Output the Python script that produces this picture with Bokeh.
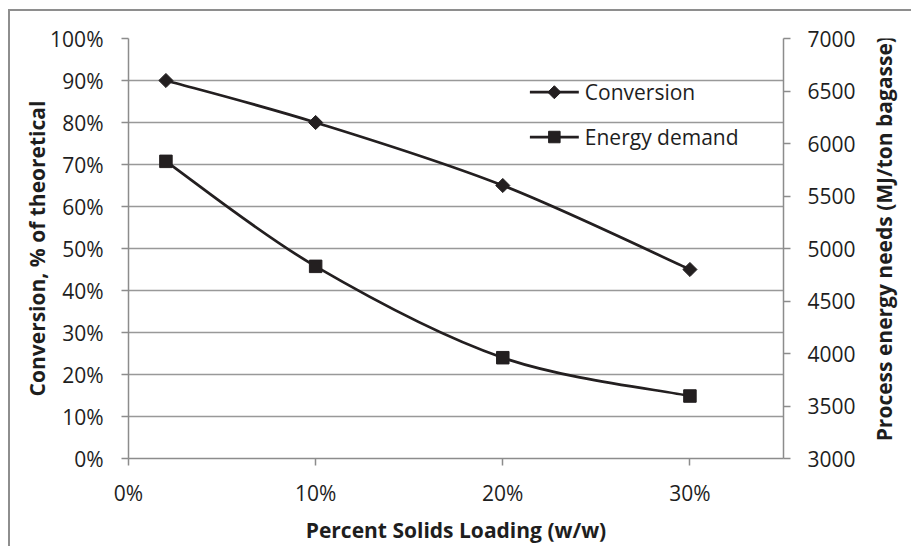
from math import pi

from bokeh.core.properties import value
from bokeh.embed import file_html
from bokeh.layouts import row
from bokeh.models import (ColumnDataSource, FixedTicker, LinearAxis,
                          NumeralTickFormatter, Range1d)
from bokeh.plotting import figure
from bokeh.resources import INLINE

# Pretreatment results versus solids loading
solids_loading = [0.02, 0.10, 0.20, 0.30]
conversion = [0.90, 0.80, 0.65, 0.45]
energy_demand = [5830, 4830, 3960, 3595]

x_ticks = [0.0, 0.1, 0.2, 0.3]
conversion_ticks = [0.0, 0.1, 0.2, 0.3, 0.4, 0.5, 0.6, 0.7, 0.8, 0.9, 1.0]
energy_ticks = [3000, 3500, 4000, 4500, 5000, 5500, 6000, 6500, 7000]

series_names = ["Conversion", "Energy demand"]
x_title = "Percent Solids Loading (w/w)"
left_title = "Conversion, % of theoretical"
right_title = "Process energy needs (MJ/ton bagasse)"

FONT = "Open Sans"
INK = "#231f20"
TEXT = "#1e1e1e"
AXIS_GRAY = "#8c8c8c"
GRID_GRAY = "#999999"
TICK_SIZE = "21px"
TITLE_SIZE = "21px"

# layout geometry (pixels)
HEIGHT = 535
FRAME_W, FRAME_H = 656, 422
BORDER_TOP, BORDER_BOTTOM = 27, 86
BORDER_LEFT, BORDER_RIGHT = 118, 74
RIGHT_STRIP = 53


def smooth_segments(xs, ys):
    """Cubic Bezier pieces through the points (Catmull-Rom style smoothing)."""
    n = len(xs)
    seg = dict(x0=[], y0=[], x1=[], y1=[], cx0=[], cy0=[], cx1=[], cy1=[])
    for i in range(n - 1):
        a = max(i - 1, 0)
        d = min(i + 2, n - 1)
        seg["x0"].append(xs[i])
        seg["y0"].append(ys[i])
        seg["x1"].append(xs[i + 1])
        seg["y1"].append(ys[i + 1])
        seg["cx0"].append(xs[i] + (xs[i + 1] - xs[a]) / 6)
        seg["cy0"].append(ys[i] + (ys[i + 1] - ys[a]) / 6)
        seg["cx1"].append(xs[i + 1] - (xs[d] - xs[i]) / 6)
        seg["cy1"].append(ys[i + 1] - (ys[d] - ys[i]) / 6)
    return ColumnDataSource(seg)


def title_strip(width, text, x, y):
    """Narrow panel holding one upward-reading axis title."""
    s = figure(width=width, height=HEIGHT,
               x_range=Range1d(0, width), y_range=Range1d(0, HEIGHT),
               x_axis_type=None, y_axis_type=None,
               output_backend="svg", toolbar_location=None, min_border=0,
               background_fill_color="white", border_fill_color="white",
               outline_line_color=None)
    s.xgrid.grid_line_color = None
    s.ygrid.grid_line_color = None
    s.text(x=[x], y=[y], text=[text], angle=pi / 2,
           text_font=value(FONT), text_font_size=value(TITLE_SIZE),
           text_font_style="bold", text_color=TEXT,
           text_align="center", text_baseline="middle")
    return s


p = figure(width=BORDER_LEFT + FRAME_W + BORDER_RIGHT, height=HEIGHT,
           x_range=Range1d(0, 0.35), y_range=Range1d(0, 1),
           output_backend="svg", toolbar_location=None,
           min_border_left=BORDER_LEFT, min_border_right=BORDER_RIGHT,
           min_border_top=BORDER_TOP, min_border_bottom=BORDER_BOTTOM,
           background_fill_color="white", border_fill_color="white",
           outline_line_color=None)

p.extra_y_ranges = {"energy": Range1d(3000, 7000),
                    "key_y": Range1d(0, FRAME_H)}
p.extra_x_ranges = {"key_x": Range1d(0, FRAME_W)}


def style_axis(ax, standoff):
    ax.axis_line_color = AXIS_GRAY
    ax.axis_line_width = 1.5
    ax.major_tick_line_color = AXIS_GRAY
    ax.major_tick_line_width = 1.5
    ax.major_tick_in = 0
    ax.major_tick_out = 7
    ax.minor_tick_line_color = None
    ax.major_label_text_font = FONT
    ax.major_label_text_font_size = TICK_SIZE
    ax.major_label_text_color = TEXT
    ax.major_label_standoff = standoff
    ax.axis_label_text_font = FONT
    ax.axis_label_text_font_size = TITLE_SIZE
    ax.axis_label_text_font_style = "bold"
    ax.axis_label_text_color = TEXT


xax = p.xaxis[0]
xax.ticker = FixedTicker(ticks=x_ticks)
xax.formatter = NumeralTickFormatter(format="0%")
xax.axis_label = x_title
style_axis(xax, 13)
xax.axis_label_standoff = 6

lax = p.yaxis[0]
lax.ticker = FixedTicker(ticks=conversion_ticks)
lax.formatter = NumeralTickFormatter(format="0%")
lax.axis_label = left_title
style_axis(lax, 18)
lax.axis_label_standoff = -4

rax = LinearAxis(y_range_name="energy", ticker=FixedTicker(ticks=energy_ticks))
style_axis(rax, 17)
p.add_layout(rax, "right")

p.xgrid.grid_line_color = None
p.ygrid.ticker = FixedTicker(ticks=conversion_ticks)
p.ygrid.grid_line_color = GRID_GRAY
p.ygrid.grid_line_width = 1.5

# smoothed curves through the measured points
p.bezier("x0", "y0", "x1", "y1", "cx0", "cy0", "cx1", "cy1",
         source=smooth_segments(solids_loading, conversion),
         line_color=INK, line_width=2.75)
p.bezier("x0", "y0", "x1", "y1", "cx0", "cy0", "cx1", "cy1",
         source=smooth_segments(solids_loading, energy_demand),
         line_color=INK, line_width=2.75, y_range_name="energy")

p.scatter(solids_loading, conversion, marker="square", angle=pi / 4,
          size=10, fill_color=INK, line_color=INK)
p.scatter(solids_loading, energy_demand, marker="square", size=12.5,
          fill_color=INK, line_color=INK, y_range_name="energy")

# legend keys, laid out in frame pixels (origin at the frame's lower left)
key_rows = [368, 323]
p.segment(x0=[402, 402], y0=key_rows, x1=[451, 451], y1=key_rows,
          line_color=INK, line_width=2.75,
          x_range_name="key_x", y_range_name="key_y")
p.scatter(x=[426.5], y=[key_rows[0]], marker="square", angle=pi / 4, size=9.2,
          fill_color=INK, line_color=INK, x_range_name="key_x", y_range_name="key_y")
p.scatter(x=[426.5], y=[key_rows[1]], marker="square", size=11.5,
          fill_color=INK, line_color=INK, x_range_name="key_x", y_range_name="key_y")
p.text(x=[457, 457], y=key_rows, text=series_names,
       text_font=value(FONT), text_font_size=value(TICK_SIZE),
       text_color=TEXT, text_baseline="middle", text_align="left",
       x_range_name="key_x", y_range_name="key_y")

right_strip = title_strip(RIGHT_STRIP, right_title, 25, 280)

chart = row(p, right_strip, spacing=0)
chart.styles = {"border-left": "2px solid #8e8e8e", "border-top": "2px solid #8e8e8e",
                "margin-left": "8px", "margin-top": "9px"}

open("out.html", "w").write(file_html(chart, INLINE))
